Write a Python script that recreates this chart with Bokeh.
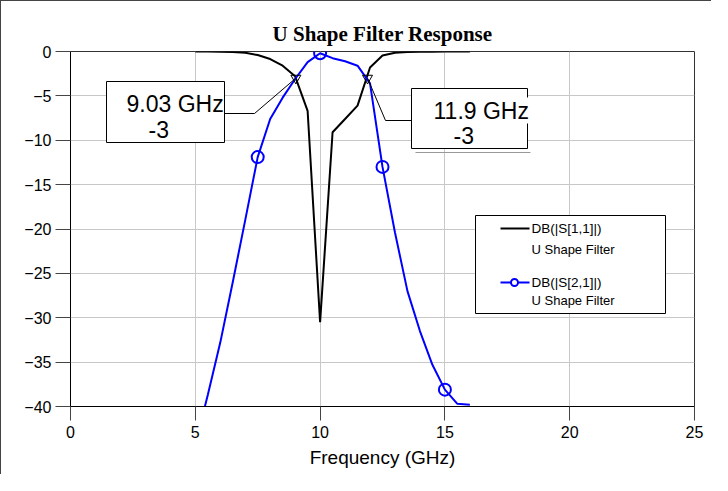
from bokeh.plotting import figure
from bokeh.models import Range1d, FixedTicker, Label
from bokeh.core.properties import value
from bokeh.embed import file_html
from bokeh.resources import INLINE

# ---- data ----
freq = [5.0, 5.5, 6.0, 6.5, 7.0, 7.5, 8.0, 8.5, 9.0, 9.5, 10.0, 10.5, 11.0,
        11.5, 12.0, 12.5, 13.0, 13.5, 14.0, 14.5, 15.0, 15.5, 16.0]
s11_db = [-0.01, -0.01, -0.02, -0.05, -0.15, -0.4, -0.85, -1.6, -2.8, -6.7, -30.5,
          -9.1, -7.6, -6.1, -1.8, -0.45, -0.15, -0.07, -0.04, -0.02, -0.01, -0.01, -0.01]
s21_db = [-44.3, -38.7, -32.8, -26.0, -19.0, -11.9, -7.6, -5.2, -3.1, -1.2, -0.2,
          -0.75, -1.1, -1.6, -3.6, -13.0, -20.4, -27.0, -31.5, -35.3, -38.1, -39.7, -39.8]
s21_marker_freq = [7.5, 10.0, 12.5, 15.0]
marker_freq = [9.03, 11.9]
marker_db = [-3, -3]
marker_text = ["9.03 GHz", "11.9 GHz"]
marker_val_text = ["-3", "-3"]
x_ticks = [0, 5, 10, 15, 20, 25]
y_ticks = [0, -5, -10, -15, -20, -25, -30, -35, -40]
legend_names = ["DB(|S[1,1]|)", "DB(|S[2,1]|)"]
legend_sub = "U Shape Filter"
title_text = "U Shape Filter Response"
x_label = "Frequency (GHz)"

# ---- frame geometry (page pixels), used to place annotation boxes ----
PX_X = 624 / 25.0
PX_Y = 355 / 40.0
FRAME_LEFT_PX = 78
FRAME_TOP_PX = 59


def dx(px):
    return (px - FRAME_LEFT_PX) / PX_X


def dy(py):
    return -(py - FRAME_TOP_PX) / PX_Y


p = figure(width=711, height=474, x_range=Range1d(0, 25), y_range=Range1d(-40, 0),
           output_backend="svg", toolbar_location=None,
           min_border_left=69, min_border_right=18, min_border_top=50, min_border_bottom=69)
p.styles = {"border-left": "1px solid #444", "border-top": "1px solid #444"}

p.title.text = title_text
p.title.align = "center"
p.title.text_font = "Liberation Serif"
p.title.text_font_style = "bold"
p.title.text_font_size = "21px"
p.title.text_color = "black"
p.title.standoff = 11

p.outline_line_color = "#333"
p.grid.grid_line_color = "#c8c8c8"
p.grid.grid_line_width = 1
p.xaxis.ticker = FixedTicker(ticks=x_ticks)
p.yaxis.ticker = FixedTicker(ticks=y_ticks)
p.xgrid.ticker = FixedTicker(ticks=x_ticks)
p.ygrid.ticker = FixedTicker(ticks=y_ticks)
for ax in (p.xaxis, p.yaxis):
    ax.axis_line_color = "black"
    ax.major_tick_line_color = "#444"
    ax.major_tick_in = 0
    ax.minor_tick_line_color = None
    ax.major_label_text_font = "Liberation Sans"
    ax.major_label_text_font_size = "16px"
    ax.major_label_text_color = "black"
p.yaxis.major_tick_out = 15
p.yaxis.major_label_standoff = 4
p.xaxis.major_tick_out = 14
p.xaxis.major_label_standoff = 5
p.xaxis.axis_label = x_label
p.xaxis.axis_label_text_font = "Liberation Sans"
p.xaxis.axis_label_text_font_style = "normal"
p.xaxis.axis_label_text_font_size = "19px"
p.xaxis.axis_label_text_color = "black"
p.xaxis.axis_label_standoff = 6

# ---- curves ----
p.line(freq, s11_db, line_color="black", line_width=2)
p.line(freq, s21_db, line_color="#0000ff", line_width=2)
mk_y = [s21_db[freq.index(f)] for f in s21_marker_freq]
p.scatter(s21_marker_freq, mk_y, marker="circle", size=12, fill_color=None,
          line_color="#0000ff", line_width=2)

# ---- markers ----
p.scatter(marker_freq, marker_db, marker="inverted_triangle", size=10, fill_color=None,
          line_color="black", line_width=1)

# marker boxes (pixel layout converted to data units)
box_px = [(114, 232, 89, 150), (419, 535, 96, 156)]
for (l, r, t, b) in box_px:
    p.quad(left=[dx(l)], right=[dx(r)], top=[dy(t)], bottom=[dy(b)],
           fill_color="white", line_color="black", line_width=1)
# shadow on second box
p.line([dx(423), dx(538)], [dy(160), dy(160)], line_color="#999", line_width=1)

# leader lines
p.line([marker_freq[0], dx(262), dx(232)], [marker_db[0], dy(121), dy(121)],
       line_color="black", line_width=1)
p.line([marker_freq[1], dx(393), dx(419)], [marker_db[1], dy(128), dy(128)],
       line_color="black", line_width=1)

text_pos = [((134, 111.5), (156, 137)), ((441, 118), (461, 143))]
for i, ((x1, y1), (x2, y2)) in enumerate(text_pos):
    p.add_layout(Label(x=dx(x1), y=dy(y1), text=marker_text[i], text_font="Liberation Sans",
                       text_font_size="23px", text_baseline="alphabetic", text_align="left",
                       background_fill_color="white", text_color="black"))
    p.add_layout(Label(x=dx(x2), y=dy(y2), text=marker_val_text[i], text_font="Liberation Sans",
                       text_font_size="23px", text_baseline="alphabetic", text_align="left",
                       text_color="black"))

# ---- legend (drawn manually for two-line labels) ----
p.quad(left=[dx(483)], right=[dx(673)], top=[dy(223)], bottom=[dy(321)],
       fill_color="white", line_color="black", line_width=1)
p.line([dx(508), dx(537)], [dy(236), dy(236)], line_color="black", line_width=2)
p.line([dx(508), dx(537)], [dy(290), dy(290)], line_color="#0000ff", line_width=2)
p.scatter([dx(522)], [dy(290)], marker="circle", size=7, fill_color="white",
          line_color="#0000ff", line_width=2)
p.text(x=[dx(539), dx(539)], y=[dy(236), dy(290)], text=legend_names,
       text_font=value("Liberation Sans"), text_font_size=value("13.5px"),
       text_baseline="middle", text_align="left", text_color="black")
p.text(x=[dx(539), dx(539)], y=[dy(257), dy(308)], text=[legend_sub, legend_sub],
       text_font=value("Liberation Sans"), text_font_size=value("13px"),
       text_baseline="middle", text_align="left", text_color="black")

open("out.html", "w").write(file_html(p, INLINE))
